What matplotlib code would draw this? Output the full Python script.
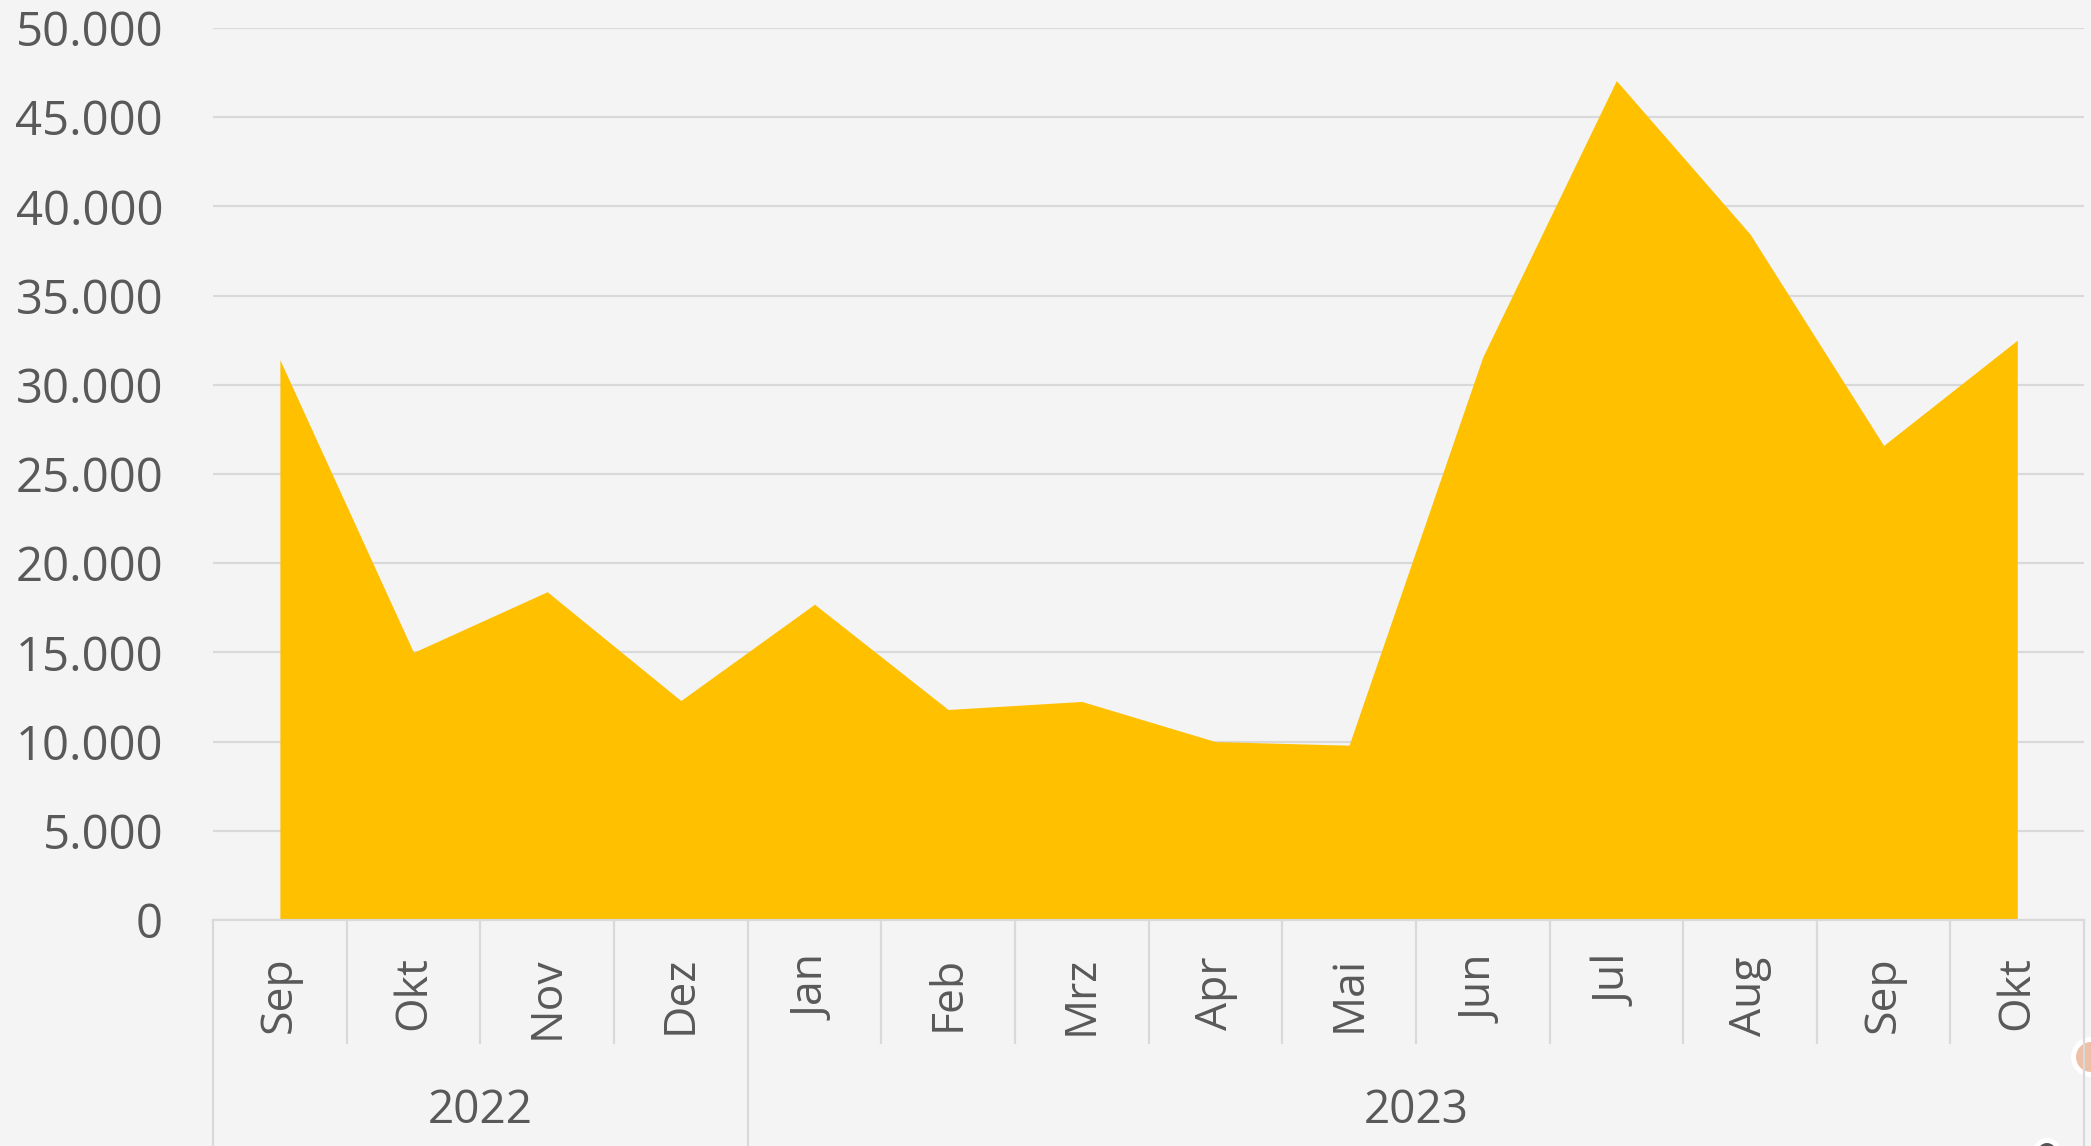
import matplotlib.pyplot as plt
import matplotlib.transforms as mtransforms
from matplotlib.patches import Ellipse

# data
months = ['Sep', 'Okt', 'Nov', 'Dez', 'Jan', 'Feb', 'Mrz', 'Apr', 'Mai',
          'Jun', 'Jul', 'Aug', 'Sep', 'Okt']
values = [31400, 15000, 18400, 12300, 17700, 11800, 12250, 10000, 9800,
          31550, 47050, 38450, 26600, 32500]
years = ['2022', '2023']
year_spans = [(0, 4), (4, 14)]  # month index ranges per year
yticks = list(range(0, 50001, 5000))

bg = '#f4f4f4'
grid_col = '#d9d9d9'
txt_col = '#595959'
W, H = 2091, 1146

plt.rcParams['font.family'] = ['Open Sans', 'DejaVu Sans']

fig = plt.figure(figsize=(W / 100, H / 100), dpi=100, facecolor=bg)
ax = fig.add_axes([0.1019, 0.1972, 0.8948, 0.7784], facecolor=bg)

x = list(range(len(months)))
ax.fill_between(x, values, 0, color='#FFC000', lw=0, zorder=2)

ax.set_xlim(-0.5, len(months) - 0.5)
ax.set_ylim(0, 50000)

# y axis
ax.set_yticks(yticks)
ax.set_yticklabels([f'{v:,}'.replace(',', '.') for v in yticks])
ax.yaxis.grid(True, color=grid_col, lw=1.6, zorder=1)
ax.set_axisbelow(True)
ax.tick_params(axis='y', length=0, pad=36, labelsize=34, labelcolor=txt_col)

# x axis (months)
ax.set_xticks(x)
ax.set_xticklabels(months, rotation=90)
ax.tick_params(axis='x', length=0, pad=26, labelsize=32, labelcolor=txt_col)

for s in ['top', 'right', 'left']:
    ax.spines[s].set_visible(False)
ax.spines['bottom'].set_color(grid_col)
ax.spines['bottom'].set_linewidth(1.6)
ax.spines['bottom'].set_zorder(3)

# category separators below the axis
trans = mtransforms.blended_transform_factory(ax.transData, ax.transAxes)
year_edges = {s for span in year_spans for s in span}
for i in range(len(months) + 1):
    xe = i - 0.5
    bottom = -0.3 if i in year_edges else -0.138
    ax.plot([xe, xe], [0, bottom], transform=trans, color=grid_col,
            lw=1.6, clip_on=False, zorder=1)

for yr, (a, b) in zip(years, year_spans):
    ax.text((a + b - 1) / 2, -0.214, yr, transform=trans, ha='center',
            va='center', fontsize=33, color=txt_col)


# selection handle remnants near the right/bottom edge
def handle(cx, cy, r, color):
    for rr, c in [(r + 5, 'white'), (r, color)]:
        fig.patches.append(Ellipse((cx / W, 1 - cy / H), 2 * rr / W, 2 * rr / H,
                                   transform=fig.transFigure, facecolor=c,
                                   edgecolor='none', zorder=-1))


handle(2091, 1057, 15, '#efc0a8')
handle(2047, 1152, 9, '#555555')

plt.savefig('out.png', dpi=100, facecolor=bg)
